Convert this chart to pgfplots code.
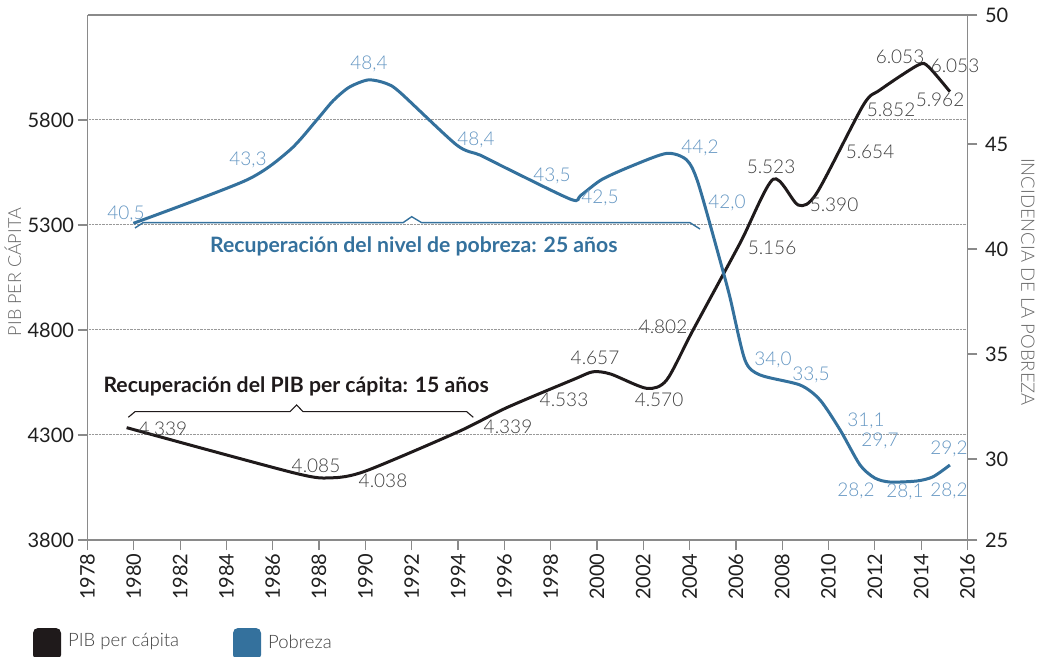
\documentclass[border=0pt]{standalone}
\usepackage{fontspec}
\setmainfont{Lato}
\newfontfamily\lightfont{Lato Light}
\usepackage{pgfplots}
\pgfplotsset{compat=1.18}

\definecolor{pibc}{HTML}{1F1A1B}
\definecolor{pobc}{HTML}{34719D}
\definecolor{poblab}{HTML}{6496C2}
\definecolor{pibtxt}{HTML}{404040}
\definecolor{axgray}{HTML}{8A8A8A}
\definecolor{labgray}{HTML}{666666}

\newcommand{\lblfont}{\lightfont\fontsize{19}{20}\selectfont}
\newcommand{\lbl}[4]{\node[font=\lblfont, text=#4, inner sep=0pt] at ({#1pt},{(656-#2)*1pt}) {#3};}

\pgfplotsset{
  common/.style={
    at={(87.5pt,116pt)}, anchor=south west,
    scale only axis, width=880pt, height=525pt,
    xmin=1978, xmax=2016,
    tick align=outside,
    major tick length=10pt,
    tick style={axgray, line width=1.2pt},
    axis line style={axgray, line width=1.2pt},
    /pgf/number format/assume math mode=true,
    /pgf/number format/1000 sep={},
    tick label style={font=\fontsize{20}{22}\selectfont, text=black!88},
  }
}

\begin{document}
\begin{tikzpicture}
\path[use as bounding box] (0pt,0pt) rectangle (1049pt,656pt);

\begin{axis}[common,
  ymin=3800, ymax=6300,
  axis x line*=bottom, axis y line*=left,
  xtick={1978,1980,...,2016},
  ytick={3800,4300,4800,5300,5800},
  x tick label style={rotate=90, anchor=east},
  ymajorgrids,
  major grid style={densely dotted, gray!80, line width=1pt},
]
\addplot[pibc, line width=3pt, smooth, tension=0.45] coordinates {
(1979.69,4335) (1986.9,4120) (1988.5,4096) (1990.0,4128)
(1994.0,4315) (1996.1,4430) (1999.0,4565) (1999.83,4601)
(2000.60,4590) (2002.15,4522) (2003.01,4562) (2004.15,4800)
(2006.18,5214) (2007.61,5518) (2008.69,5395) (2009.49,5452)
(2011.50,5871) (2012.22,5943) (2013.87,6062) (2014.31,6054)
(2015.24,5935)
};
\end{axis}

\begin{axis}[common,
  ymin=26.14, ymax=51.14,
  axis x line=none, axis y line*=right,
  ytick={26.14,30,35,40,45,51.14},
  yticklabels={25,30,35,40,45,50},
  y tick label style={anchor=west, xshift=4pt},
]
\addplot[pobc, line width=3pt, smooth, tension=0.45] coordinates {
(1979.98,41.22) (1984.87,43.28) (1986.74,44.71) (1987.90,46.14)
(1988.60,47.05) (1989.30,47.70) (1990.13,48.05) (1990.90,47.88) (1991.50,47.45) (1993.94,44.95)
(1994.95,44.47) (1996.24,43.76) (1998.90,42.35) (1999.30,42.55)
(2000.20,43.30) (2001.50,43.95) (2003.01,44.55) (2003.87,44.24) (2004.37,43.13)
(2005.39,39.15) (2005.75,37.66) (2006.39,34.71) (2007.04,34.00)
(2008.77,33.52) (2009.63,32.81) (2010.50,31.38) (2011.36,29.71)
(2012.00,29.09) (2012.65,28.90) (2013.81,28.95) (2014.51,29.15)
(2015.24,29.71)
};
\end{axis}

% top frame line
\draw[axgray, line width=1.2pt] (87.5pt,641pt) -- (967.5pt,641pt);

% axis titles
\node[rotate=90, font=\lightfont\fontsize{18}{19}\selectfont, text=labgray] at (13pt,{(656-272)*1pt}) {PIB PER CÁPITA};
\node[rotate=-90, font=\lightfont\fontsize{18.5}{19}\selectfont, text=labgray] at (1028pt,{(656-282)*1pt}) {INCIDENCIA DE LA POBREZA};

% brackets
\draw[pobc, line width=1.4pt] (135pt,{(656-228)*1pt}) -- (143pt,{(656-222.7)*1pt}) -- (403pt,{(656-222.7)*1pt}) -- (411.7pt,{(656-216.7)*1pt}) -- (421.7pt,{(656-222.7)*1pt}) -- (690pt,{(656-222.7)*1pt}) -- (700pt,{(656-229)*1pt});
\draw[pibc, line width=1.1pt] (128.3pt,{(656-417.3)*1pt}) -- (135pt,{(656-411.7)*1pt}) -- (290pt,{(656-411.7)*1pt}) -- (296.7pt,{(656-405)*1pt}) -- (303pt,{(656-411.7)*1pt}) -- (466.7pt,{(656-411.7)*1pt}) -- (473.3pt,{(656-417.3)*1pt});

% annotations
\node[anchor=base west, inner sep=0pt, font=\bfseries\fontsize{21.2}{23}\selectfont, text=pibc] at (103.3pt,{(656-393)*1pt}) {Recuperación del PIB per cápita: 15 años};
\node[anchor=base west, inner sep=0pt, font=\bfseries\fontsize{21.2}{23}\selectfont, text=pobc] at (210pt,{(656-253)*1pt}) {Recuperación del nivel de pobreza: 25 años};

% PIB labels
\lbl{163}{429}{4.339}{pibtxt}
\lbl{316}{466}{4.085}{pibtxt}
\lbl{383}{481}{4.038}{pibtxt}
\lbl{508}{427}{4.339}{pibtxt}
\lbl{564}{400}{4.533}{pibtxt}
\lbl{595}{358}{4.657}{pibtxt}
\lbl{659}{400}{4.570}{pibtxt}
\lbl{663}{327}{4.802}{pibtxt}
\lbl{772}{248}{5.156}{pibtxt}
\lbl{771}{167}{5.523}{pibtxt}
\lbl{834}{205}{5.390}{pibtxt}
\lbl{870}{152}{5.654}{pibtxt}
\lbl{891}{110}{5.852}{pibtxt}
\lbl{900}{57}{6.053}{pibtxt}
\lbl{955}{66}{6.053}{pibtxt}
\lbl{940}{100}{5.962}{pibtxt}

% Pobreza labels
\lbl{126}{214}{40,5}{poblab}
\lbl{248}{160}{43,3}{poblab}
\lbl{369}{64}{48,4}{poblab}
\lbl{476}{140}{48,4}{poblab}
\lbl{552}{176}{43,5}{poblab}
\lbl{600}{198}{42,5}{poblab}
\lbl{700}{148}{44,2}{poblab}
\lbl{727}{203}{42,0}{poblab}
\lbl{773}{360}{34,0}{poblab}
\lbl{811}{375}{33,5}{poblab}
\lbl{866}{421}{31,1}{poblab}
\lbl{880}{441}{29,7}{poblab}
\lbl{856}{491}{28,2}{poblab}
\lbl{905}{492}{28,1}{poblab}
\lbl{949}{491}{28,2}{poblab}
\lbl{949}{449}{29,2}{poblab}

% legend
\fill[pibc, rounded corners=5pt] (33pt,-4pt) rectangle (61pt,{(656-628)*1pt});
\node[anchor=west, inner sep=0pt, font=\lightfont\fontsize{18.5}{20}\selectfont, text=pibtxt] at (68pt,{(656-642)*1pt}) {PIB per cápita};
\fill[pobc, rounded corners=5pt] (233pt,-4pt) rectangle (261pt,{(656-628)*1pt});
\node[anchor=west, inner sep=0pt, font=\lightfont\fontsize{18.5}{20}\selectfont, text=pibtxt] at (268pt,{(656-642)*1pt}) {Pobreza};

\end{tikzpicture}
\end{document}
